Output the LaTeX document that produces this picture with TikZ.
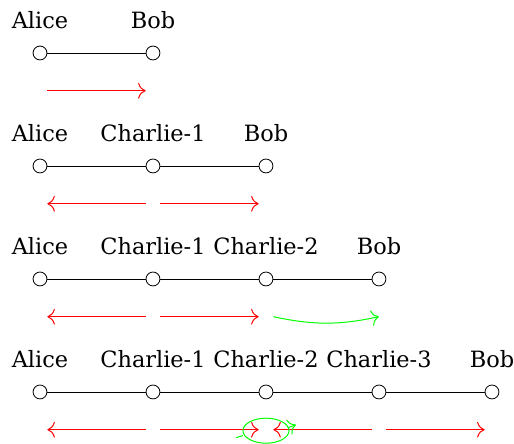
\documentclass[tikz,border=0pt]{standalone}
\usepackage{fontspec}
\setmainfont{DejaVu Serif}
\usetikzlibrary{arrows.meta}
\begin{document}
\begin{tikzpicture}[>={To[scale=1.4]}, x=2cm, y=2cm]
\tikzstyle{peer}=[draw,circle,minimum size=7pt,inner sep=0pt,fill=white]
\tikzstyle{peerlabel}=[font=\fontsize{11.3}{13}\selectfont,inner sep=0pt]
\tikzstyle{msg}=[->,red,line width=0.5pt]
\tikzstyle{fwd}=[->,green,line width=0.5pt]
\useasboundingbox (-0.354,-0.460) rectangle (4.195,3.469);
% two peers
\node[peer](a1) at (0,3) {};
\node[peer](b1) at (1,3) {};
\node[peerlabel](ta1) at (0,3.29) {Alice};
\node[peerlabel](tb1) at (1,3.29) {Bob};
\draw (a1) -- (b1);
\draw[msg] ([yshift=-19pt]a1.east) -- ([yshift=-19pt]b1.west);
%
\node[peer](a2) at (0,2) {};
\node[peer](c21) at (1,2) {};
\node[peer](b2) at (2,2) {};
\node[peerlabel](ta2) at (0,2.29) {Alice};
\node[peerlabel](tc21) at (1,2.29) {Charlie-1};
\node[peerlabel](tb2) at (2,2.29) {Bob};
\draw (a2) -- (c21) -- (b2);
\draw[msg] ([yshift=-19pt]c21.west) -- ([yshift=-19pt]a2.east);
\draw[msg] ([yshift=-19pt]c21.east) -- ([yshift=-19pt]b2.west);
%
\node[peer](a3) at (0,1) {};
\node[peer](c31) at (1,1) {};
\node[peer](c32) at (2,1) {};
\node[peer](b3) at (3,1) {};
\node[peerlabel](ta3) at (0,1.29) {Alice};
\node[peerlabel](tc31) at (1,1.29) {Charlie-1};
\node[peerlabel](tc32) at (2,1.29) {Charlie-2};
\node[peerlabel](tb3) at (3,1.29) {Bob};
\draw (a3) -- (c31) -- (c32) -- (b3);
\draw[msg] ([yshift=-19pt]c31.west) -- ([yshift=-19pt]a3.east);
\draw[msg] ([yshift=-19pt]c31.east) -- ([yshift=-19pt]c32.west);
\draw[fwd] ([yshift=-19pt]c32.east) to[bend right=12] ([yshift=-19pt]b3.center);
%
\node[peer](a4) at (0,0) {};
\node[peer](c41) at (1,0) {};
\node[peer](c42) at (2,0) {};
\node[peer](c43) at (3,0) {};
\node[peer](b4) at (4,0) {};
\node[peerlabel](ta4) at (0,0.29) {Alice};
\node[peerlabel](tc41) at (1,0.29) {Charlie-1};
\node[peerlabel](tc42) at (2,0.29) {Charlie-2};
\node[peerlabel](tc43) at (3,0.29) {Charlie-3};
\node[peerlabel](tb4) at (4,0.29) {Bob};
\draw (a4) -- (c41) -- (c42) -- (c43) -- (b4);
\draw[msg] ([yshift=-19pt]c41.west) -- ([yshift=-19pt]a4.east);
\draw[msg] ([yshift=-19pt]c41.east) -- ([yshift=-19pt]c42.west);
\draw[msg] ([yshift=-19pt]c43.west) -- ([yshift=-19pt]c42.east);
\draw[msg] ([yshift=-19pt]c43.east) -- ([yshift=-19pt]b4.west);
%
\coordinate (bounce) at ([yshift=-19.5pt]c42);
\draw[green,line width=0.5pt] (bounce) ellipse (11.6pt and 6.3pt);
\draw[green,line width=0.5pt] ([shift={(-11.6pt,-2.5pt)}]bounce) -- ([shift={(-15.1pt,-3.5pt)}]bounce);
\draw[fwd] ([shift={(11.1pt,1.5pt)}]bounce) -- ([shift={(15.1pt,3pt)}]bounce);
\end{tikzpicture}
\end{document}
